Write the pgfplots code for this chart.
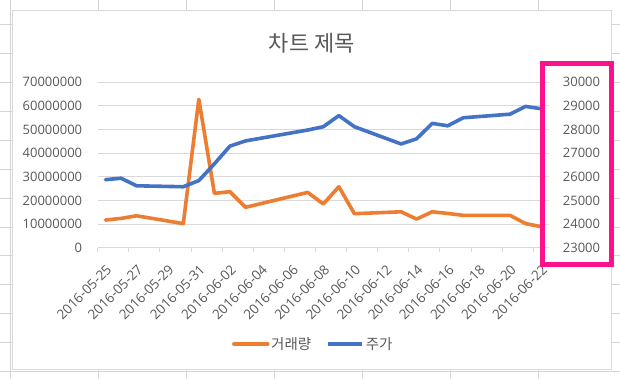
\documentclass[border=0pt]{standalone}
\usepackage{pgfplots}
\pgfplotsset{compat=1.18}
\usepackage{fontspec}
\setmainfont{Open Sans}
\newfontfamily\kr{Noto Sans CJK KR}
\definecolor{cOrange}{HTML}{ED7D31}
\definecolor{cBlue}{HTML}{4472C4}
\definecolor{cText}{HTML}{595959}
\definecolor{cGrid}{HTML}{D9D9D9}
\definecolor{cSheet}{HTML}{D4D4D4}
\definecolor{cPink}{RGB}{255,16,140}

\begin{document}
\begin{tikzpicture}[x=1pt,y=1pt]
\useasboundingbox (0,0) rectangle (620,378);
\fill[white] (0,0) rectangle (620,378);
% spreadsheet grid
\foreach \x in {10,98,186,274,362,450,538}
  \draw[cSheet, line width=1pt] (\x,0) -- (\x,378);
\foreach \y in {353.3,324.4,295.5,266.6,237.7,208.8,179.9,151,122.1,93.2,64.3,35.4,6.5}
  \draw[cSheet, line width=1pt] (0,\y) -- (620,\y);
% chart frame
\filldraw[fill=white, draw=cGrid, line width=1pt] (12,367) rectangle (611.7,8.7);
% title
\node[text=cText, font=\kr\fontsize{22}{26}\selectfont] at (311.7,334.7) {차트 제목};

\begin{axis}[
  at={(97.7pt,130.3pt)}, anchor=south west,
  scale only axis, width=451.2pt, height=165.4pt,
  xmin=0, xmax=29, ymin=0, ymax=70000000,
  axis x line*=bottom, axis y line*=left,
  y axis line style={draw=none},
  x axis line style={cGrid, line width=1pt},
  ytick={0,10000000,20000000,30000000,40000000,50000000,60000000,70000000},
  ymajorgrids, major grid style={cGrid, line width=1pt},
  scaled y ticks=false,
  /pgf/number format/assume math mode=true,
  yticklabel style={/pgf/number format/fixed, /pgf/number format/1000 sep={},
    anchor=east, inner sep=0pt, xshift=-15.4pt, text=cText,
    font=\fontsize{13}{13}\selectfont},
  major tick length=0pt,
  xtick={0.5,2.5,4.5,6.5,8.5,10.5,12.5,14.5,16.5,18.5,20.5,22.5,24.5,26.5,28.5},
  xticklabels={2016-05-25,2016-05-27,2016-05-29,2016-05-31,2016-06-02,2016-06-04,2016-06-06,2016-06-08,2016-06-10,2016-06-12,2016-06-14,2016-06-16,2016-06-18,2016-06-20,2016-06-22},
  minor xtick={0,2,4,6,8,10,12,14,16,18,20,22,24,26,28},
  minor tick length=4pt, tick align=outside,
  tick style={cGrid, line width=1pt},
  xticklabel style={rotate=45, anchor=north east, inner sep=0pt, text=cText,
    font=\fontsize{13.5}{13.5}\selectfont},
  xticklabel shift=16pt,
  legend style={at={(axis description cs:0.4772,-0.582)}, anchor=center,
    draw=none, fill=none, legend columns=2,
    font=\kr\fontsize{14.5}{15}\selectfont, text=cText,
    /tikz/every even column/.append style={column sep=14pt},
    nodes={inner sep=1.5pt}},
  legend image code/.code={\draw[#1] (0pt,0pt) -- (34pt,0pt);},
]
\addplot[cOrange, line width=3.6pt, line join=round, line cap=round] coordinates {
(0.5,11700000) (1.5,12400000) (2.5,13500000) (5.5,10200000) (6.5,62800000)
(7.5,23000000) (8.5,23700000) (9.5,17100000) (13.5,23400000) (14.5,18500000)
(15.5,25800000) (16.5,14400000) (19.5,15200000) (20.5,12100000) (21.5,15200000)
(22.5,14500000) (23.5,13700000) (26.5,13700000) (27.5,10200000) (28.5,8900000)};
\addlegendentry{거래량}
\addlegendimage{cBlue, line width=3.6pt}
\addlegendentry{주가}
\end{axis}

\begin{axis}[
  at={(97.7pt,130.3pt)}, anchor=south west,
  scale only axis, width=451.2pt, height=165.4pt,
  xmin=0, xmax=29, ymin=23000, ymax=30000,
  axis x line=none, axis y line*=right,
  y axis line style={draw=none},
  ytick={23000,24000,25000,26000,27000,28000,29000,30000},
  major tick length=0pt,
  scaled y ticks=false,
  /pgf/number format/assume math mode=true,
  yticklabel style={/pgf/number format/fixed, /pgf/number format/1000 sep={},
    anchor=west, inner sep=0pt, xshift=13.8pt, text=cText,
    font=\fontsize{13}{13}\selectfont},
]
\addplot[cBlue, line width=3.6pt, line join=round, line cap=round] coordinates {
(0.5,25880) (1.5,25940) (2.5,25620) (5.5,25580) (6.5,25840) (7.5,26550)
(8.5,27300) (9.5,27520) (13.5,27980) (14.5,28120) (15.5,28590) (16.5,28120)
(19.5,27390) (20.5,27610) (21.5,28260) (22.5,28160) (23.5,28500) (26.5,28650)
(27.5,28980) (28.5,28880)};
\end{axis}

\draw[cPink, line width=5pt] (542.5,314.8) rectangle (611.8,113.2);
\end{tikzpicture}
\end{document}
